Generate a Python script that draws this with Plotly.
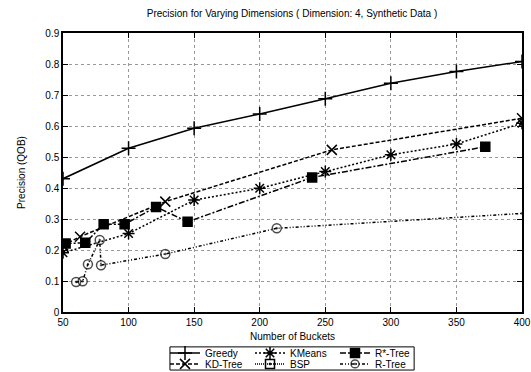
import plotly.graph_objects as go

title = "Precision for Varying Dimensions ( Dimension: 4, Synthetic Data )"

greedy_x = [50, 100, 150, 200, 250, 300, 350, 400]
greedy_y = [0.43, 0.528, 0.593, 0.639, 0.688, 0.738, 0.776, 0.808]

kd_x = [50, 63, 128, 255, 400]
kd_y = [0.215, 0.243, 0.356, 0.523, 0.625]

kmeans_x = [50, 100, 150, 200, 250, 300, 350, 400]
kmeans_y = [0.191, 0.253, 0.361, 0.399, 0.453, 0.507, 0.542, 0.609]

bsp_x = [None]
bsp_y = [None]

rstar_x = [52, 67, 81, 97, 121, 145, 240, 372]
rstar_y = [0.221, 0.223, 0.283, 0.283, 0.339, 0.291, 0.434, 0.533]

rtree_x = [60, 65, 69, 78, 79, 128, 213, 400]
rtree_y = [0.097, 0.099, 0.154, 0.232, 0.151, 0.187, 0.270, 0.318]

x_ticks = [50, 100, 150, 200, 250, 300, 350, 400]
y_ticks = [0, 0.1, 0.2, 0.3, 0.4, 0.5, 0.6, 0.7, 0.8, 0.9]

fig = go.Figure()

def add(name, x, y, dash, symbol, size, rank, legend, msizes=None):
    fig.add_trace(go.Scatter(
        x=x, y=y, name=name, mode="lines+markers",
        line=dict(color="black", width=1.5, dash=dash),
        marker=dict(symbol=symbol, size=msizes if msizes else size, color="black",
                    line=dict(color="black", width=1.5)),
        legendrank=rank, legend=legend,
    ))

add("Greedy", greedy_x, greedy_y, "solid", "cross-thin", 10, 1, "legend")
add("KMeans", kmeans_x, kmeans_y, "2px,2px", "asterisk", 10, 2, "legend")
add("R*-Tree", rstar_x, rstar_y, "6px,2px,2px,2px", "square", 9, 3, "legend")
add("KD-Tree", kd_x, kd_y, "4px,2px", "x-thin", 10, 4, "legend2")
add("BSP", bsp_x, bsp_y, "1px,1px", "square-open-dot", 9, 5, "legend2")
add("R-Tree", rtree_x, rtree_y, "3px,2px,1px,2px,1px,2px", "circle-open-dot", 9, 6, "legend2",
    msizes=[9] * (len(rtree_x) - 1) + [0])

axis_common = dict(
    showline=True, linecolor="black", linewidth=1.5, mirror="ticks",
    ticks="inside", ticklen=5, tickcolor="black",
    showgrid=True, gridcolor="#999999", griddash="dot", gridwidth=1,
    zeroline=False, tickfont=dict(size=10, color="black"),
)

legend_common = dict(orientation="h", x=0.5, xanchor="center", yanchor="middle",
                     bgcolor="rgba(0,0,0,0)", borderwidth=0, font=dict(size=10),
                     entrywidth=40, tracegroupgap=0, itemwidth=30)

fig.update_layout(
    width=531, height=372,
    margin=dict(l=63, r=9, t=33, b=60, autoexpand=False),
    paper_bgcolor="white", plot_bgcolor="white",
    font=dict(family="Liberation Sans, Arial, sans-serif", size=10, color="black"),
    title=dict(text=title, x=0.55, xanchor="center", y=0.965, yanchor="middle",
               font=dict(size=10)),
    xaxis=dict(range=[50, 400], tickvals=x_ticks,
               title=dict(text="Number of Buckets", standoff=6, font=dict(size=10)),
               **axis_common),
    yaxis=dict(range=[0, 0.9], tickvals=y_ticks,
               title=dict(text="Precision (QOB)", standoff=18, font=dict(size=10)),
               **axis_common),
    legend=dict(y=-0.147, **legend_common),
    legend2=dict(y=-0.186, **legend_common),
    showlegend=True,
    shapes=[dict(type="rect", xref="paper", yref="paper",
                 x0=0.233, x1=0.765, y0=-0.208, y1=-0.125,
                 line=dict(color="black", width=1), fillcolor="rgba(0,0,0,0)")],
)

fig.write_html("out.html")
